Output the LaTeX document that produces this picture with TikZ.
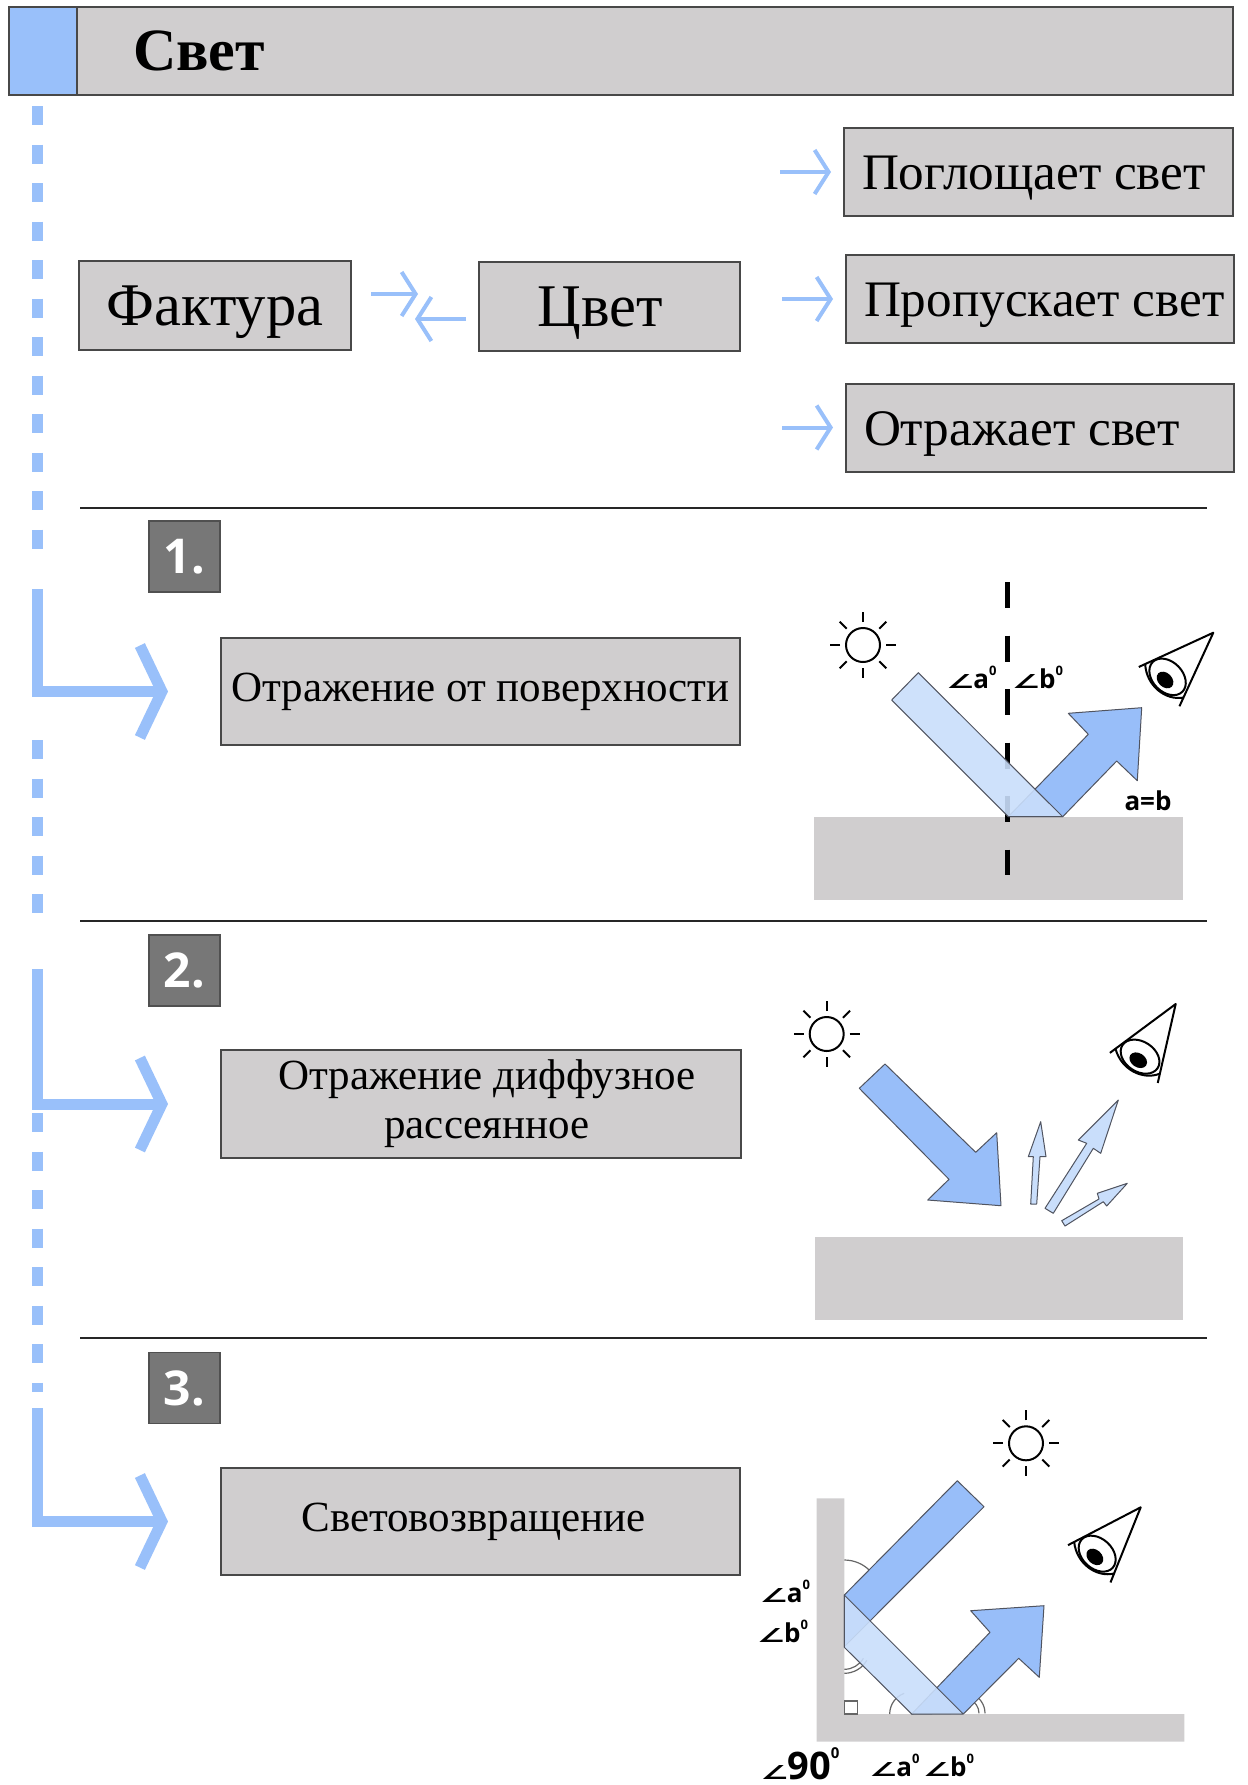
\documentclass[tikz,border=0pt]{standalone}
\usepackage{fontspec}
\usepackage{graphicx}
\setmainfont{Liberation Serif}
\newfontfamily\labelfont{Open Sans}
\newfontfamily\anglefont{DejaVu Sans}
\usepackage{tikz}
\usetikzlibrary{arrows.meta,calc}
\usepackage{xcolor}

\definecolor{linkblue}{RGB}{153,192,250}
\definecolor{beamdark}{RGB}{152,190,249}
\definecolor{beamlight}{RGB}{201,222,251}
\definecolor{beamedge}{RGB}{80,84,96}
\definecolor{boxgray}{RGB}{208,206,207}
\definecolor{boxline}{RGB}{72,72,72}
\definecolor{numgray}{RGB}{119,119,119}
\definecolor{numline}{RGB}{80,80,80}

% angle sign and angle label with a small zero
\newcommand{\angsym}{\makebox[12pt][l]{\kern-1.5pt\scalebox{1.3}[0.8]{\anglefont\fontsize{12}{12}\selectfont ∠}}}
\newcommand{\anglabel}[1]{\angsym#1\raisebox{6.5pt}{\fontsize{6.5}{7}\selectfont 0}}

\tikzset{
  sun/.pic={
    \draw[line width=1pt] (0,0) circle[radius=17];
    \foreach \a in {0,45,...,315}
      \draw[line width=1pt] (\a:23) -- (\a:33);
  },
  eye/.pic={
    \draw[line width=1pt, line join=round] (-82,0) -- (0,0) -- (-61.5,52.7);
    \draw[line width=1pt] (-75,0) .. controls (-83,20) and (-72,42) .. (-54,46.5);
    \draw[line width=1pt, rotate around={-70:(-60,21)}] (-60,21) ellipse[x radius=21, y radius=15];
    \fill[rotate around={-70:(-63.6,22.8)}] (-63.6,22.8) ellipse[x radius=9.5, y radius=7];
  }
}

\begin{document}
\begin{tikzpicture}[x=0.5pt, y=-0.5pt,
    graybox/.style={draw=boxline, fill=boxgray, line width=1pt, inner sep=0pt},
    itembox/.style={graybox, inner xsep=9pt, minimum width=194.5pt, minimum height=44pt,
      font=\fontsize{25.6}{30}\selectfont, text height=23pt, text depth=5.5pt},
    bigbox/.style={graybox, minimum width=136pt, minimum height=44.5pt,
      font=\fontsize{30.3}{36}\selectfont, text height=26pt, text depth=6.5pt},
    casebox/.style={graybox, align=center, minimum width=259.5pt, minimum height=53.5pt,
      font=\fontsize{21.5}{24.5}\selectfont},
    numbox/.style={draw=numline, fill=numgray, line width=0.6pt, minimum size=35.5pt,
      inner sep=0pt, text=white, font=\labelfont\bfseries\fontsize{24}{28}\selectfont},
    spine/.style={draw=linkblue, line width=5.5pt, dash pattern=on 9.5pt off 9.75pt},
    caselink/.style={draw=linkblue, line width=5.5pt, line join=miter,
      -{Straight Barb[length=11pt, width=46pt, sharp]}},
    itemlink/.style={draw=linkblue, line width=2pt,
      -{Straight Barb[length=7pt, width=22pt, sharp]}},
    lightbeam/.style={fill=beamlight, draw=beamedge, line width=0.5pt, line join=round},
    darkbeam/.style={fill=beamdark, draw=beamedge, line width=0.5pt, line join=round},
    anglearc/.style={draw=black!60, line width=0.6pt},
    anglab/.style={font=\labelfont\bfseries\fontsize{13}{15}\selectfont, inner sep=0pt, anchor=base}]

          % Variables
          \def \spinex {37.5}

          \useasboundingbox (0,0) rectangle (1248,1785);

          % Title
          \node[graybox, fill=linkblue, minimum width=34pt, minimum height=44pt] (tab) at (43,51) {};
          \node[graybox, minimum width=578pt, minimum height=44pt, inner xsep=28pt,
                font=\bfseries\fontsize{30}{36}\selectfont] (title) at (655,51) {\makebox[522pt][l]{Свет}};

          % Colour and texture
          \node[bigbox] (factura) at (215,305.5) {Фактура};
          \node[bigbox, minimum width=130.5pt] (tsvet) at (609.5,306.5) {Цвет\hspace*{9pt}};
          \node[itembox] (absorbs) at (1038.5,172) {\makebox[176.5pt][l]{Поглощает свет}};
          \node[itembox, minimum width=194pt] (passes) at (1040,299) {\makebox[176pt][l]{Пропускает свет}};
          \node[itembox, minimum width=194pt] (reflects) at (1040,427.5) {\makebox[176pt][l]{Отражает свет}};

          % Small arrows
          \draw[itemlink] ($(factura.east)+(19,-11.5)$) -- ($(tsvet.west)+(-60,-12.5)$);
          \draw[itemlink] ($(tsvet.west)+(-12,12.5)$) -- ($(factura.east)+(63,13.5)$);
          \foreach \target in {absorbs,passes,reflects}
            \draw[itemlink] ($(\target.west)+(-63,0)$) -- ($(\target.west)+(-12,0)$);

          % Horizontal lines
          \foreach \y in {508,921,1338}
            \draw[line width=1pt, black!85] (80,\y) -- (1207,\y);

          % Numbers
          \node[numbox] (num1) at (184.5,556.5) {1.};
          \node[numbox] (num2) at (184.5,970.5) {2.};
          \node[numbox] (num3) at (184.5,1388) {3.};

          % Cases
          \node[casebox] (case1) at (480.5,691.5) {Отражение от поверхности};
          \node[casebox, minimum width=260pt, minimum height=54pt] (case2) at (481,1104) {\hspace*{6pt}Отражение диффузное\\\hspace*{6pt}рассеянное};
          \node[casebox] (case3) at (480.5,1521.5) {Световозвращение\hspace*{7pt}};

          % Blue spine
          \draw[spine] (\spinex,106) -- (\spinex,550);
          \draw[spine] (\spinex,740) -- (\spinex,918);
          \draw[spine] (\spinex,1113) -- (\spinex,1392);
          \coordinate (turn1) at (\spinex,589);
          \coordinate (turn2) at (\spinex,969);
          \coordinate (turn3) at (\spinex,1408);
          \draw[caselink] (turn1) |- ($(case1.west)+(-52,0)$);
          \draw[caselink] (turn2) |- ($(case2.west)+(-52,0)$);
          \draw[caselink] (turn3) |- ($(case3.west)+(-52,0)$);

          % 1. Reflection from a surface
          \fill[boxgray] (814,817) rectangle (1183,900);
          \draw[line width=2.5pt, dash pattern=on 13pt off 13.75pt] (1007,582) -- (1007,875);
          \draw[darkbeam] (1008.3,816.7) -- (1088.3,734.3) -- (1068.3,713.3) -- (1141.7,707.7)
                -- (1137.3,780.7) -- (1116.7,761) -- (1062.7,816.7) -- cycle;
          \draw[lightbeam, fill opacity=0.9] (891.7,700) -- (918.3,672.7) -- (1062.7,816.7) -- (1008.3,816.7) -- cycle;
          \pic at (863,645) {sun};
          \pic[rotate=24.7] at (1213.3,632.7) {eye};
          \node[anglab] (ina) at (973,688) {\anglabel{a}};
          \node[anglab] (outb) at (1039,688) {\anglabel{b}};
          \node[anglab] (equal) at (1148,810) {a=b};

          % 2. Diffuse reflection
          \fill[boxgray] (815,1237) rectangle (1183,1320);
          \draw[darkbeam] (885,1064) -- (975.7,1152.3) -- (996.7,1132.7) -- (1001,1205.7)
                -- (927.7,1200) -- (949,1179.3) -- (859.3,1088.3) -- cycle;
          \draw[lightbeam] (1030.7,1204) -- (1033.3,1156.7) -- (1028.3,1156.7) -- (1040.7,1121.7)
                -- (1046,1156.7) -- (1040,1156.7) -- (1036.7,1204) -- cycle;
          \draw[lightbeam] (1045,1208.3) -- (1086.7,1143.3) -- (1078.3,1140) -- (1118.3,1100)
                -- (1100.7,1153.3) -- (1093.3,1148.3) -- (1053.3,1213.3) -- cycle;
          \draw[lightbeam] (1061.7,1220.7) -- (1099,1199) -- (1097.3,1193.3) -- (1127.3,1183.3)
                -- (1106.7,1206) -- (1103.3,1201.7) -- (1065,1226) -- cycle;
          \pic at (826.7,1034) {sun};
          \pic[rotate=36.6] at (1175.7,1004) {eye};

          % 3. Retroreflection
          \fill[boxgray] (816.7,1498.3) -- (844.3,1498.3) -- (844.3,1714) -- (1184.3,1714)
                -- (1184.3,1741.7) -- (816.7,1741.7) -- cycle;
          \draw[anglearc] (844.3,1560) arc[start angle=-90, end angle=0, radius=36];
          \draw[anglearc] (844.3,1669.3) arc[start angle=90, end angle=30, radius=22];
          \draw[anglearc] (844.3,1673.3) arc[start angle=90, end angle=30, radius=26];
          \draw[anglearc] (889.7,1714) arc[start angle=180, end angle=250, radius=22];
          \draw[anglearc] (979,1713.3) arc[start angle=0, end angle=-70, radius=15];
          \draw[anglearc] (985,1713.3) arc[start angle=0, end angle=-70, radius=21];
          \draw[anglearc, fill=white] (844.3,1701) rectangle (857.3,1714);
          \draw[darkbeam] (957.3,1480.7) -- (984,1506.7) -- (844.3,1646.7) -- (844.3,1595) -- cycle;
          \draw[darkbeam] (911.7,1714) -- (990,1632.3) -- (970.7,1610.7) -- (1044,1605.7)
                -- (1039.3,1677.3) -- (1018.7,1658.3) -- (964,1713.3) -- cycle;
          \draw[lightbeam, fill opacity=0.9] (844.3,1595) -- (963.3,1714) -- (911.7,1714) -- (844.3,1647.3) -- cycle;
          \pic at (1026,1443.3) {sun};
          \pic[rotate=27.5] at (1140.7,1507.3) {eye};
          \node[anglab] (walla) at (786.5,1602) {\anglabel{a}};
          \node[anglab] (wallb) at (784,1642) {\anglabel{b}};
          \node[anglab] (right) at (801.5,1779) {\angsym{\fontsize{19}{20}\selectfont 90}\raisebox{10.5pt}{\fontsize{7.5}{8}\selectfont 0}};
          \node[anglab] (floora) at (896,1776.5) {\anglabel{a}};
          \node[anglab] (floorb) at (950,1776.5) {\anglabel{b}};

        \end{tikzpicture}
\end{document}
